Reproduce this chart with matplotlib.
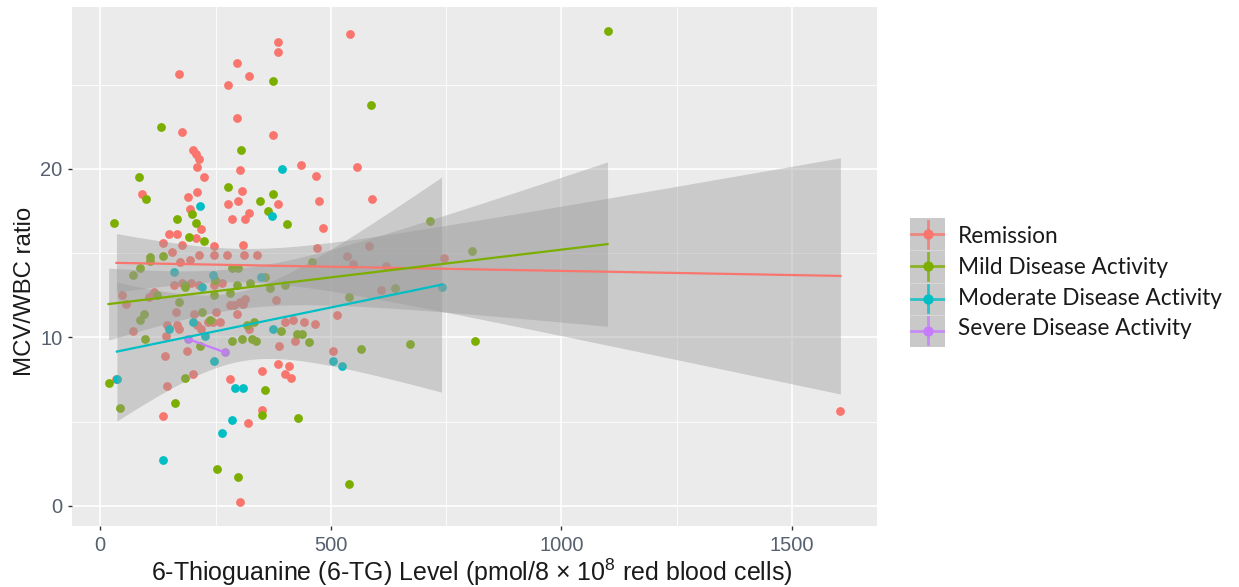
import numpy as np
import matplotlib
matplotlib.use("Agg")
import matplotlib.pyplot as plt
from matplotlib.ticker import MultipleLocator

plt.rcParams['font.family'] = ['Liberation Sans', 'DejaVu Sans']
plt.rcParams['mathtext.fontset'] = 'custom'
plt.rcParams['mathtext.rm'] = 'Liberation Sans'

# 6-TG level (x) and MCV/WBC ratio (y)
remission_x = [541, 385, 385, 296, 170, 322, 278, 296, 178, 374, 202, 208, 213, 209, 302, 435,
               556, 467, 224, 90, 209, 307, 590, 190, 278, 299, 474, 385, 195, 322, 314, 285,
               482, 219, 148, 166, 207, 135, 178, 247, 310, 470, 155, 215, 247, 274, 312, 339,
               582, 534, 548, 620, 745, 173, 195,
               47, 56, 70, 105, 117, 143, 141, 144, 165, 170, 159, 177, 196, 215, 189, 202,
               204, 209, 219, 234, 245, 260, 251, 281, 297, 303, 314, 323, 381, 400, 418, 442,
               466, 388, 422, 504, 514, 608, 247, 263, 281, 320, 351, 351, 385, 400, 409, 413,
               135, 302, 1605, 112, 310, 289, 145, 166, 35]
remission_y = [28.0, 27.5, 26.9, 26.3, 25.6, 25.5, 25.0, 23.0, 22.2, 22.0, 21.1, 20.9, 20.6, 20.1,
               19.9, 20.2, 20.1, 19.6, 19.5, 18.5, 18.6, 18.7, 18.2, 18.3, 17.9, 18.1, 18.1, 17.9,
               17.6, 17.4, 17.0, 17.0, 16.5, 16.4, 16.1, 16.1, 15.9, 15.6, 15.5, 15.4, 15.5, 15.3,
               15.05, 14.9, 14.9, 14.9, 14.9, 14.9, 15.4, 14.8, 14.35, 14.25, 14.7, 14.45, 14.6,
               12.5, 12.0, 10.4, 12.4, 12.7, 10.1, 8.9, 7.1, 11.5, 10.5, 13.1, 13.2, 13.2, 13.1,
               9.2, 7.8, 11.4, 10.7, 10.5, 10.9, 10.9, 10.9, 11.5, 11.9, 11.4, 12.1, 12.3, 10.5,
               12.2, 10.9, 11.0, 10.9, 10.8, 9.5, 9.8, 9.2, 11.3, 12.8, 13.1, 13.2, 7.5, 4.9,
               5.7, 8.0, 8.4, 7.8, 8.3, 7.6, 5.3, 0.2, 5.65, 12.5, 11.95, 11.9, 10.7, 10.7, 7.5]

mild_x = [374, 586, 131, 305, 84, 278, 374, 99, 346, 363, 198, 166, 207, 29, 404, 193, 224,
          107, 107, 135, 72, 87, 460, 716, 806, 249, 286, 299, 357, 1100, 18, 42, 97, 87, 95,
          162, 183, 170, 183, 216, 220, 237, 247, 254, 298, 286, 307, 328, 337, 318, 333, 351,
          357, 392, 426, 437, 453, 429, 565, 540, 539, 639, 672, 296, 325, 281, 368, 400, 123,
          184, 813]
mild_y = [25.2, 23.8, 22.5, 21.1, 19.5, 18.9, 18.5, 18.2, 18.1, 17.5, 17.3, 17.0, 16.8, 16.8,
          16.7, 15.95, 15.7, 14.75, 14.5, 14.8, 13.7, 14.1, 14.45, 16.9, 15.1, 13.4, 14.1, 14.1,
          13.55, 28.2, 7.3, 5.8, 9.9, 11.0, 11.4, 6.1, 7.6, 12.1, 13.1, 9.5, 11.5, 11.0, 12.5,
          2.2, 1.7, 9.8, 9.9, 9.9, 9.8, 10.7, 10.9, 5.4, 6.9, 10.4, 10.2, 10.2, 9.7, 5.2, 9.3,
          1.3, 12.4, 12.9, 9.6, 13.1, 13.2, 12.6, 12.9, 13.1, 12.5, 13.0, 9.75]

moderate_x = [395, 216, 372, 159, 244, 348, 220, 36, 137, 149, 200, 227, 247, 265, 286, 293,
              310, 374, 504, 525, 740]
moderate_y = [19.96, 17.8, 17.2, 13.86, 13.7, 13.56, 12.96, 7.5, 2.7, 10.5, 10.9, 10.1, 8.6,
              4.3, 5.1, 7.0, 7.0, 10.5, 8.6, 8.3, 13.0]

severe_x = [190, 271]
severe_y = [9.9, 9.1]

groups = ["Remission", "Mild Disease Activity", "Moderate Disease Activity", "Severe Disease Activity"]
colors = ["#F8766D", "#7CAE00", "#00BFC4", "#C77CFF"]
xs = [remission_x, mild_x, moderate_x, severe_x]
ys = [remission_y, mild_y, moderate_y, severe_y]


def t975(df):
    # approximate 97.5% quantile of Student t
    z = 1.959964
    return (z + (z**3 + z) / (4 * df) + (5 * z**5 + 16 * z**3 + 3 * z) / (96 * df**2)
            + (3 * z**7 + 19 * z**5 + 17 * z**3 - 15 * z) / (384 * df**3))


W, H = 1239, 587
fig = plt.figure(figsize=(W / 100, H / 100), dpi=100)
ax = fig.add_axes([72 / W, 61 / H, 805 / W, 519 / H])
ax.set_facecolor("#EBEBEB")

# points first, smooths drawn on top (as in ggplot)
for x, y, c in zip(xs, ys, colors):
    ax.scatter(x, y, s=40, color=c, linewidths=0, zorder=2)

for x, y, c in zip(xs, ys, colors):
    x = np.array(x, float)
    y = np.array(y, float)
    n = len(x)
    b, a = np.polyfit(x, y, 1)
    grid = np.linspace(x.min(), x.max(), 80)
    fit = a + b * grid
    if n > 2:
        resid = y - (a + b * x)
        s = np.sqrt(np.sum(resid**2) / (n - 2))
        sxx = np.sum((x - x.mean())**2)
        se = s * np.sqrt(1 / n + (grid - x.mean())**2 / sxx)
        ax.fill_between(grid, fit - t975(n - 2) * se, fit + t975(n - 2) * se,
                        color="#999999", alpha=0.4, linewidth=0, zorder=3)
    ax.plot(grid, fit, color=c, lw=1.6, zorder=4)

allx = np.concatenate([np.array(v, float) for v in xs])
ally = np.concatenate([np.array(v, float) for v in ys])
dx = (allx.max() - allx.min()) * 0.05
dy = (ally.max() - ally.min()) * 0.05
ax.set_xlim(allx.min() - dx, allx.max() + dx)
ax.set_ylim(ally.min() - dy, ally.max() + dy)

ax.xaxis.set_major_locator(MultipleLocator(500))
ax.xaxis.set_minor_locator(MultipleLocator(250))
ax.yaxis.set_major_locator(MultipleLocator(10))
ax.yaxis.set_minor_locator(MultipleLocator(5))
ax.grid(which="major", color="white", lw=1.2, zorder=0)
ax.grid(which="minor", color="white", lw=0.6, zorder=0)
ax.set_axisbelow(True)
for sp in ax.spines.values():
    sp.set_visible(False)
ax.tick_params(which="major", length=3, width=1, color="#333333", labelsize=14.5,
               labelcolor="#56606e", pad=4)
ax.tick_params(which="minor", length=0)

ax.set_xlabel("6-Thioguanine (6-TG) Level (pmol/8 × 10$^{\\mathregular{8}}$ red blood cells)",
              fontsize=18, color="#1a1a1a", va="center")
ax.set_ylabel("MCV/WBC ratio", fontsize=17.3, color="#1a1a1a", va="center")
ax.xaxis.set_label_coords(0.497, -0.0886)
ax.yaxis.set_label_coords(-0.059, 0.453)

# legend: grey keys with point + cross, labels to the right
lax = fig.add_axes([910 / W, (H - 347) / H, 35 / W, 129 / H])
lax.set_facecolor("#C9C9C9")
lax.set_xlim(0, 1)
lax.set_ylim(0, 4)
lax.set_xticks([])
lax.set_yticks([])
for sp in lax.spines.values():
    sp.set_visible(False)
for i, (g, c) in enumerate(zip(groups, colors)):
    yc = 3.5 - i
    lax.plot([0.03, 0.97], [yc, yc], color=c, lw=2, alpha=0.8)
    lax.plot([0.5, 0.5], [yc - 0.42, yc + 0.42], color=c, lw=2, alpha=0.8)
    lax.scatter([0.5], [yc], s=55, color=c, linewidths=0, zorder=3)
    if i > 0:
        lax.axhline(4 - i, color="#d6d6d6", lw=0.8)
    fig.text(958 / W, (H - (236.5 + 30.8 * i)) / H, g, fontsize=16.3, family=["Lato", "DejaVu Sans"],
             va="center", ha="left", color="#1a1a1a")

fig.savefig("out.png", dpi=100, facecolor="white")
